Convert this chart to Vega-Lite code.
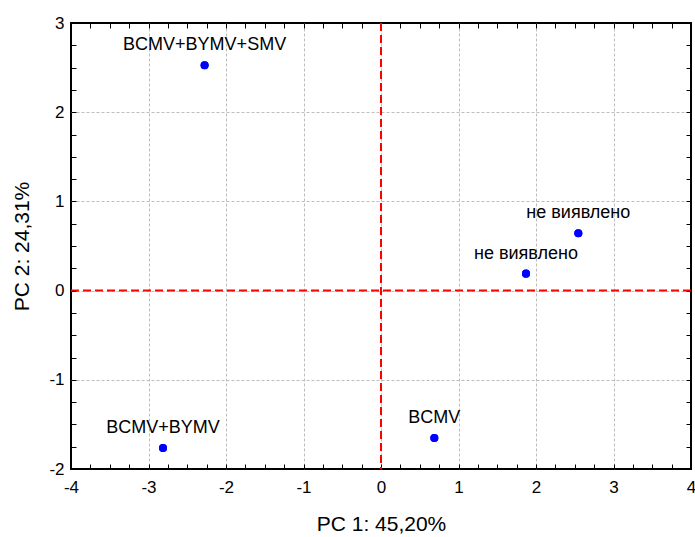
{
  "$schema": "https://vega.github.io/schema/vega-lite/v6.json",
  "autosize": "none",
  "width": 620,
  "height": 446,
  "padding": {"left": 71, "top": 23, "right": 4, "bottom": 68},
  "background": "white",
  "config": {
    "view": {"stroke": "black", "strokeWidth": 2},
    "axis": {
      "labelFont": "Liberation Sans",
      "labelFontSize": 17,
      "labelColor": "black",
      "titleFont": "Liberation Sans",
      "titleFontSize": 21,
      "titleFontWeight": "normal",
      "titleColor": "black",
      "domain": false,
      "tickColor": "black",
      "tickWidth": 1,
      "tickSize": -5,
      "gridColor": "#bdbdbd",
      "gridDash": [3, 2],
      "gridWidth": 1
    }
  },
  "datasets": {
    "pts": [
      {"pc1": -2.276, "pc2": 2.526, "label": "BCMV+BYMV+SMV"},
      {"pc1": -2.813, "pc2": -1.765, "label": "BCMV+BYMV"},
      {"pc1": 0.688, "pc2": -1.652, "label": "BCMV"},
      {"pc1": 1.871, "pc2": 0.19, "label": "не виявлено"},
      {"pc1": 2.546, "pc2": 0.642, "label": "не виявлено"}
    ]
  },
  "resolve": {"axis": {"x": "independent", "y": "independent"}},
  "layer": [
    {
      "data": {"name": "pts"},
      "mark": {"type": "point", "filled": true, "color": "#0000ff", "opacity": 1, "size": 65},
      "encoding": {
        "x": {
          "field": "pc1", "type": "quantitative",
          "scale": {"domain": [-4, 4], "nice": false, "zero": false},
          "axis": {
            "orient": "bottom",
            "title": "PC 1: 45,20%",
            "values": [-4,-3.75,-3.5,-3.25,-3,-2.75,-2.5,-2.25,-2,-1.75,-1.5,-1.25,-1,-0.75,-0.5,-0.25,0,0.25,0.5,0.75,1,1.25,1.5,1.75,2,2.25,2.5,2.75,3,3.25,3.5,3.75,4],
            "labelExpr": "datum.value % 1 == 0 ? '' + datum.value : ''",
            "labelPadding": 15,
            "labelFlush": false,
            "labelOverlap": false,
            "grid": true,
            "gridOpacity": {"condition": {"test": "datum.value % 1 == 0 && datum.value > -4 && datum.value < 4", "value": 1}, "value": 0},
            "titleX": 310,
            "titleY": 55,
            "titleBaseline": "middle"
          }
        },
        "y": {
          "field": "pc2", "type": "quantitative",
          "scale": {"domain": [-2, 3], "nice": false, "zero": false},
          "axis": {
            "orient": "left",
            "title": "PC 2: 24,31%",
            "values": [-2,-1.75,-1.5,-1.25,-1,-0.75,-0.5,-0.25,0,0.25,0.5,0.75,1,1.25,1.5,1.75,2,2.25,2.5,2.75,3],
            "labelExpr": "datum.value % 1 == 0 ? '' + datum.value : ''",
            "labelPadding": 12,
            "labelFlush": false,
            "labelOverlap": false,
            "grid": true,
            "gridOpacity": {"condition": {"test": "datum.value % 1 == 0 && datum.value > -2 && datum.value < 3", "value": 1}, "value": 0},
            "titleAngle": -90,
            "titleX": -49,
            "titleY": 223,
            "titleBaseline": "middle"
          }
        }
      }
    },
    {
      "data": {"values": [{"v": 0}]},
      "mark": {"type": "rule", "color": "#ff0000", "strokeWidth": 2, "strokeDash": [8, 4]},
      "encoding": {
        "x": {"field": "v", "type": "quantitative", "scale": {"domain": [-4, 4], "nice": false, "zero": false}, "axis": null}
      }
    },
    {
      "data": {"values": [{"v": 0}]},
      "mark": {"type": "rule", "color": "#ff0000", "strokeWidth": 2, "strokeDash": [8, 4]},
      "encoding": {
        "y": {"field": "v", "type": "quantitative", "scale": {"domain": [-2, 3], "nice": false, "zero": false}, "axis": null}
      }
    },
    {
      "data": {"name": "pts"},
      "mark": {"type": "point", "filled": true, "color": "#0000ff", "opacity": 1, "size": 65},
      "encoding": {
        "x": {"field": "pc1", "type": "quantitative", "axis": null},
        "y": {"field": "pc2", "type": "quantitative", "axis": null}
      }
    },
    {
      "data": {"name": "pts"},
      "mark": {"type": "text", "font": "Liberation Sans", "fontSize": 18, "color": "black", "baseline": "middle", "align": "center", "dy": -20},
      "encoding": {
        "x": {
          "field": "pc1", "type": "quantitative",
          "axis": {
            "orient": "top", "title": null, "labels": false, "grid": false,
            "values": [-4,-3.75,-3.5,-3.25,-3,-2.75,-2.5,-2.25,-2,-1.75,-1.5,-1.25,-1,-0.75,-0.5,-0.25,0,0.25,0.5,0.75,1,1.25,1.5,1.75,2,2.25,2.5,2.75,3,3.25,3.5,3.75,4]
          }
        },
        "y": {
          "field": "pc2", "type": "quantitative",
          "axis": {
            "orient": "right", "title": null, "labels": false, "grid": false,
            "values": [-2,-1.75,-1.5,-1.25,-1,-0.75,-0.5,-0.25,0,0.25,0.5,0.75,1,1.25,1.5,1.75,2,2.25,2.5,2.75,3]
          }
        },
        "text": {"field": "label"}
      }
    }
  ]
}
